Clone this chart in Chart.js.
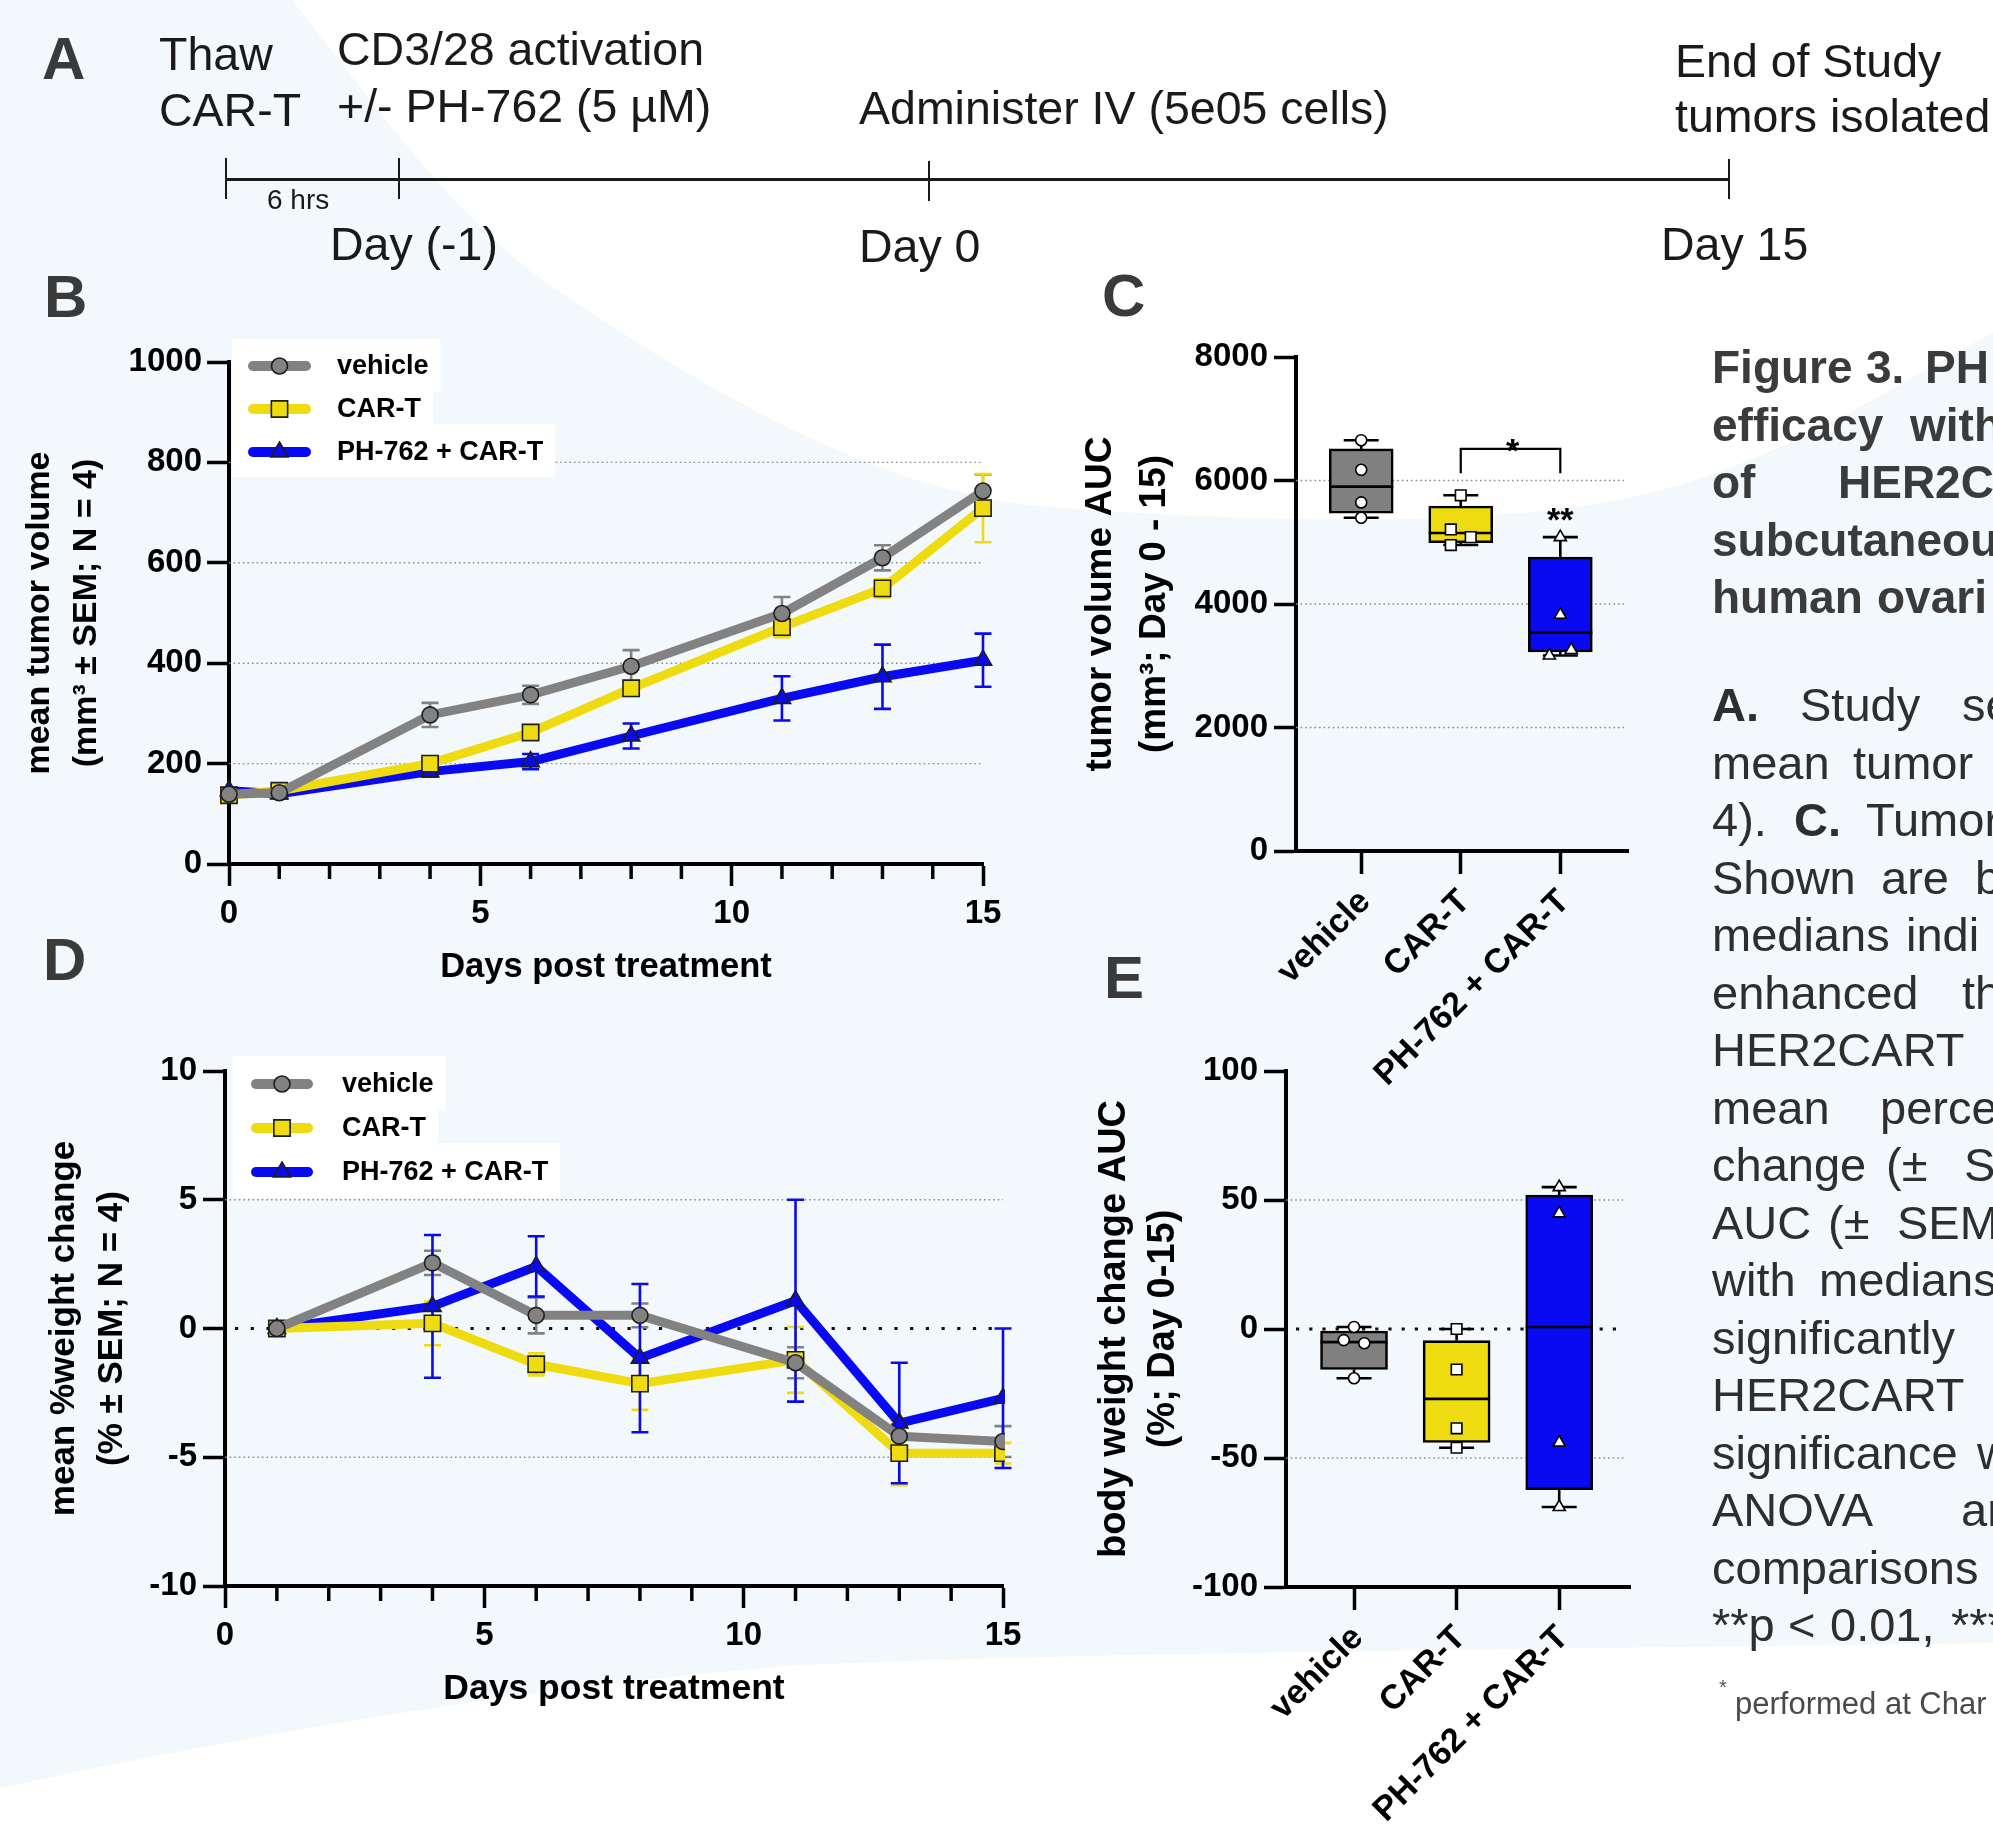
<!DOCTYPE html>
<html><head><meta charset="utf-8">
<script src="https://cdn.jsdelivr.net/npm/chart.js@4.4.1/dist/chart.umd.min.js"></script>
<style>
html,body{margin:0;padding:0;}
body{width:1993px;height:1824px;overflow:hidden;position:relative;background:#f2f8fb;font-family:'Liberation Sans',Arial,sans-serif;}
#bg{position:absolute;left:0;top:0;}
canvas{position:absolute;left:0;top:0;}
.t{position:absolute;white-space:pre;line-height:1;}
.ln{position:absolute;background:#1a1a1a;}
</style></head><body>
<svg id="bg" width="1993" height="1824" xmlns="http://www.w3.org/2000/svg">
<path d="M292,0 C380,110 460,230 572,300 C700,385 880,495 1050,507 C1250,522 1500,530 1650,493 C1800,455 1900,380 1993,333 L1993,0 Z" fill="#ffffff"/>
<path d="M0,1788 C250,1735 500,1690 800,1665 C1100,1652 1500,1650 1993,1643 L1993,1824 L0,1824 Z" fill="#ffffff"/>
</svg>
<canvas id="cB" width="1993" height="1824"></canvas>
<canvas id="cC" width="1993" height="1824"></canvas>
<canvas id="cD" width="1993" height="1824"></canvas>
<canvas id="cE" width="1993" height="1824"></canvas>
<script>
// ---------------- DATA ----------------
const SERIES = ['vehicle', 'CAR-T', 'PH-762 + CAR-T'];
const GROUPS = ['vehicle', 'CAR-T', 'PH-762 + CAR-T'];

// Panel B: mean tumor volume (mm3) +/- SEM
const DAYS_B = [0, 1, 4, 6, 8, 11, 13, 15];
const B_VEHICLE = [139, 142, 297, 337, 394, 499, 610, 743];
const B_VEHICLE_SEM = [3, 4, 24, 18, 32, 33, 25, 33];
const B_CART = [137, 146, 200, 262, 350, 472, 549, 709];
const B_CART_SEM = [3, 5, 8, 12, 15, 20, 18, 68];
const B_PH = [146, 140, 184, 204, 255, 330, 373, 406];
const B_PH_SEM = [3, 4, 10, 15, 25, 44, 64, 53];

// Panel D: mean % weight change +/- SEM
const DAYS_D = [1, 4, 6, 8, 11, 13, 15];
const D_VEHICLE = [0, 2.55, 0.51, 0.51, -1.33, -4.18, -4.39];
const D_VEHICLE_SEM = [0, 0.47, 0.7, 0.46, 0.6, 0.45, 0.6];
const D_CART = [0, 0.2, -1.39, -2.14, -1.22, -4.84, -4.84];
const D_CART_SEM = [0, 0.85, 0.43, 1.02, 1.28, 1.25, 0.4];
const D_PH = [0, 0.86, 2.41, -1.15, 1.08, -3.67, -2.71];
const D_PH_SEM = [0, 2.77, 1.17, 2.88, 3.92, 2.34, 2.71];

// Panel C: tumor volume AUC (box plots)
const C_POINTS = [[6653, 6173, 5645, 5397], [5760, 5207, 5083, 4955], [5083, 3826, 3256, 3165]];
const C_MIN = [5397, 4955, 3165];
const C_Q1 = [5471, 4992, 3223];
const C_MED = [5901, 5149, 3537];
const C_Q3 = [6512, 5587, 4760];
const C_MAX = [6653, 5760, 5083];

// Panel E: body weight change AUC (box plots)
const E_POINTS = [[0.8, -4.3, -5.5, -19.1], [0, -15.7, -38.5, -46], [55, 44.8, -44, -69]];
const E_MIN = [-19.1, -46, -69];
const E_Q1 = [-15.7, -44, -62.3];
const E_MED = [-5.1, -27.1, 0.8];
const E_Q3 = [-0.8, -4.5, 51.9];
const E_MAX = [0.8, 0, 55];

// tick values
const TICKS_B_Y = [0, 200, 400, 600, 800, 1000];
const TICKS_C_Y = [0, 2000, 4000, 6000, 8000];
const TICKS_D_Y = [-10, -5, 0, 5, 10];
const TICKS_E_Y = [-100, -50, 0, 50, 100];
const MAJOR_X = [0, 5, 10, 15];
const MINOR_X = [1, 2, 3, 4, 6, 7, 8, 9, 11, 12, 13, 14];

// ---------------- STYLE ----------------
const FONT = "'Liberation Sans', Arial, sans-serif";
Chart.defaults.font.family = FONT;
const GREY = '#828282', YELLOW = '#eedc10', BLUE = '#0a0af2';
const POINT_JITTER_C = [[0, 0, 0, 0], [0, -0.1, 0.1, -0.1], [0, 0, 0.11, -0.11]];
const POINT_JITTER_E = [[0, -0.1, 0.1, 0], [0, 0, 0, 0], [0, 0, 0, 0]];

function drawMarker(ctx, style, x, y, r) {
  ctx.beginPath();
  if (style === 'circle') ctx.arc(x, y, r, 0, Math.PI * 2);
  else if (style === 'rect') { const s = r * Math.SQRT1_2; ctx.rect(x - s, y - s, 2 * s, 2 * s); }
  else { ctx.moveTo(x, y - r); ctx.lineTo(x + 0.866 * r, y + 0.5 * r); ctx.lineTo(x - 0.866 * r, y + 0.5 * r); ctx.closePath(); }
  ctx.fill(); ctx.stroke();
}

function lineDS(label, days, vals, sems, color, style, radius) {
  return {
    label, data: days.map((d, i) => ({x: d, y: vals[i]})), errors: sems, errorColor: color,
    borderColor: color, borderWidth: 9, tension: 0, borderJoinStyle: 'round', borderCapStyle: 'round',
    pointStyle: style, pointRadius: radius, pointHoverRadius: radius,
    pointBackgroundColor: color, pointBorderColor: '#1e1e1e', pointBorderWidth: 1.6
  };
}

function linePlugin(cfg) {
  return {
    id: 'decor' + cfg.id,
    beforeDatasetsDraw(chart) {
      const ctx = chart.ctx, ca = chart.chartArea, xs = chart.scales.x, ys = chart.scales.y;
      cfg.refLines.forEach(r => r.values.forEach(v => {
        const py = ys.getPixelForValue(v);
        ctx.save(); ctx.strokeStyle = r.color; ctx.lineWidth = r.width; ctx.setLineDash(r.dash); ctx.lineCap = r.cap || 'butt';
        ctx.beginPath(); ctx.moveTo(ca.left + (r.inset || 0), py); ctx.lineTo(ca.right, py); ctx.stroke(); ctx.restore();
      }));
      chart.data.datasets.forEach(ds => {
        ctx.save(); ctx.strokeStyle = ds.errorColor; ctx.lineWidth = 2.6;
        ds.data.forEach((p, i) => {
          const e = ds.errors[i]; if (!e) return;
          const px = xs.getPixelForValue(p.x), yt = ys.getPixelForValue(p.y + e), yb = ys.getPixelForValue(p.y - e);
          const c = cfg.cap / 2;
          ctx.beginPath();
          ctx.moveTo(px, yt); ctx.lineTo(px, yb);
          ctx.moveTo(px - c, yt); ctx.lineTo(px + c, yt);
          ctx.moveTo(px - c, yb); ctx.lineTo(px + c, yb);
          ctx.stroke();
        });
        ctx.restore();
      });
    },
    afterDatasetsDraw(chart) {
      const ctx = chart.ctx, L = cfg.legend;
      ctx.save();
      ctx.font = 'bold ' + L.font + 'px ' + FONT;
      L.rows.forEach((row, i) => {
        const ds = chart.data.datasets[i];
        const tw = ctx.measureText(ds.label).width;
        ctx.fillStyle = '#ffffff';
        ctx.fillRect(L.left, row.top, L.textX + tw + 12 - L.left, row.bottom - row.top);
        ctx.strokeStyle = ds.borderColor; ctx.lineWidth = 10; ctx.lineCap = 'round'; ctx.setLineDash([]);
        ctx.beginPath(); ctx.moveTo(L.line[0], row.y); ctx.lineTo(L.line[1], row.y); ctx.stroke();
        ctx.fillStyle = ds.pointBackgroundColor; ctx.strokeStyle = ds.pointBorderColor; ctx.lineWidth = 1.6;
        drawMarker(ctx, ds.pointStyle, (L.line[0] + L.line[1]) / 2, row.y, ds.pointRadius);
        ctx.fillStyle = '#000'; ctx.textBaseline = 'middle'; ctx.textAlign = 'left';
        ctx.fillText(ds.label, L.textX, row.y + 1);
      });
      ctx.restore();
    },
    afterDraw(chart) {
      const ctx = chart.ctx, xs = chart.scales.x, y0 = chart.chartArea.bottom;
      ctx.save(); ctx.strokeStyle = '#000'; ctx.lineWidth = 3.5;
      MINOR_X.forEach(v => { const px = xs.getPixelForValue(v); ctx.beginPath(); ctx.moveTo(px, y0); ctx.lineTo(px, y0 + 15); ctx.stroke(); });
      ctx.restore();
    }
  };
}

function boxPlugin(cfg) {
  return {
    id: 'box' + cfg.id,
    beforeDatasetsDraw(chart) {
      const ctx = chart.ctx, ca = chart.chartArea, ys = chart.scales.y;
      cfg.refLines.forEach(r => r.values.forEach(v => {
        const py = ys.getPixelForValue(v);
        ctx.save(); ctx.strokeStyle = r.color; ctx.lineWidth = r.width; ctx.setLineDash(r.dash); ctx.lineCap = r.cap || 'butt';
        ctx.beginPath(); ctx.moveTo(ca.left + (r.inset || 0), py); ctx.lineTo(ca.right - 4, py); ctx.stroke(); ctx.restore();
      }));
    },
    beforeDatasetDraw(chart, args) {
      if (args.index !== 0) return;
      const ctx = chart.ctx, xs = chart.scales.x, ys = chart.scales.y, st = chart.data.datasets[0].stats;
      ctx.save(); ctx.strokeStyle = '#000'; ctx.lineWidth = 2.6;
      st.min.forEach((mn, i) => {
        const px = xs.getPixelForValue(i), c = cfg.cap / 2;
        const pMin = ys.getPixelForValue(mn), pMax = ys.getPixelForValue(st.max[i]);
        const pQ1 = ys.getPixelForValue(st.q1[i]), pQ3 = ys.getPixelForValue(st.q3[i]);
        ctx.beginPath();
        ctx.moveTo(px, pMax); ctx.lineTo(px, pQ3); ctx.moveTo(px, pQ1); ctx.lineTo(px, pMin);
        ctx.moveTo(px - c, pMax); ctx.lineTo(px + c, pMax);
        ctx.moveTo(px - c, pMin); ctx.lineTo(px + c, pMin);
        ctx.stroke();
      });
      ctx.restore();
    },
    afterDatasetDraw(chart, args) {
      if (args.index !== 0) return;
      const ctx = chart.ctx, xs = chart.scales.x, ys = chart.scales.y, st = chart.data.datasets[0].stats;
      const hw = chart.data.datasets[0].barThickness / 2;
      ctx.save(); ctx.strokeStyle = '#000'; ctx.lineWidth = 2.6;
      st.med.forEach((m, i) => {
        const px = xs.getPixelForValue(i), py = ys.getPixelForValue(m);
        ctx.beginPath(); ctx.moveTo(px - hw, py); ctx.lineTo(px + hw, py); ctx.stroke();
      });
      ctx.restore();
    },
    afterDatasetsDraw(chart) {
      if (!cfg.sig) return;
      const ctx = chart.ctx, xs = chart.scales.x, ys = chart.scales.y, s = cfg.sig;
      ctx.save(); ctx.strokeStyle = '#000'; ctx.lineWidth = 2.2;
      const x1 = xs.getPixelForValue(s.from), x2 = xs.getPixelForValue(s.to);
      const yt = ys.getPixelForValue(s.top), yf = ys.getPixelForValue(s.foot);
      ctx.beginPath(); ctx.moveTo(x1, yf); ctx.lineTo(x1, yt); ctx.lineTo(x2, yt); ctx.lineTo(x2, yf); ctx.stroke();
      ctx.fillStyle = '#000'; ctx.font = 'bold 34px ' + FONT; ctx.textAlign = 'center'; ctx.textBaseline = 'alphabetic';
      s.labels.forEach(l => ctx.fillText(l.text, xs.getPixelForValue(l.x), ys.getPixelForValue(l.y)));
      ctx.restore();
    }
  };
}

function yAxis(min, max, ticks, width, title, titleSize, lh, tpad, tickPad) {
  return {
    type: 'linear', min, max, position: 'left',
    afterBuildTicks: s => { s.ticks = ticks.map(v => ({value: v})); },
    afterFit: s => { s.width = width; },
    ticks: {callback: v => String(v), font: {family: FONT, size: 33, weight: 'bold'}, color: '#000', padding: tickPad},
    grid: {drawOnChartArea: false, drawTicks: true, tickLength: 22, tickWidth: 3.5, tickColor: '#000', color: '#000'},
    border: {display: true, color: '#000', width: 4},
    title: {display: true, text: title, color: '#000', font: {family: FONT, size: titleSize, weight: 'bold', lineHeight: lh}, padding: {top: tpad, bottom: 0}}
  };
}
function xAxisDays(height, title, titleSize, tpadBottom) {
  return {
    type: 'linear', min: 0, max: 15, position: 'bottom',
    afterBuildTicks: s => { s.ticks = MAJOR_X.map(v => ({value: v})); },
    afterFit: s => { s.height = height; },
    ticks: {callback: v => String(v), font: {family: FONT, size: 33, weight: 'bold'}, color: '#000', padding: 8, maxRotation: 0, autoSkip: false},
    grid: {drawOnChartArea: false, drawTicks: true, tickLength: 22, tickWidth: 3.5, tickColor: '#000', color: '#000'},
    border: {display: true, color: '#000', width: 4},
    title: {display: true, text: title, color: '#000', font: {family: FONT, size: titleSize, weight: 'bold', lineHeight: 1.2}, padding: {top: 0, bottom: tpadBottom}}
  };
}
function xAxisGroups(min, max, height, labelOffset) {
  return {
    type: 'linear', min, max, position: 'bottom', offset: false,
    afterBuildTicks: s => { s.ticks = GROUPS.map((g, i) => ({value: i})); },
    afterFit: s => { s.height = height; },
    ticks: {callback: v => GROUPS[v], font: {family: FONT, size: 34, weight: 'bold'}, color: '#000', minRotation: 45, maxRotation: 45, autoSkip: false, padding: 8, labelOffset},
    grid: {offset: false, drawOnChartArea: false, drawTicks: true, tickLength: 23, tickWidth: 3.5, tickColor: '#000', color: '#000'},
    border: {display: true, color: '#000', width: 4}
  };
}
const commonOpts = {responsive: false, animation: false, events: [], plugins: {legend: {display: false}, tooltip: {enabled: false}}};

// ---------------- PANEL B ----------------
new Chart(document.getElementById('cB'), {
  type: 'line',
  data: {datasets: [
    lineDS(SERIES[0], DAYS_B, B_VEHICLE, B_VEHICLE_SEM, GREY, 'circle', 8),
    lineDS(SERIES[1], DAYS_B, B_CART, B_CART_SEM, YELLOW, 'rect', 11.5),
    lineDS(SERIES[2], DAYS_B, B_PH, B_PH_SEM, BLUE, 'triangle', 10)
  ].map(d => Object.assign(d, {clip: false}))},
  options: Object.assign({}, commonOpts, {
    layout: {padding: {left: 0, top: 362, right: 1010, bottom: 830}},
    scales: {
      x: xAxisDays(130, 'Days post treatment', 34.5, 6),
      y: yAxis(0, 1000, TICKS_B_Y, 229, ['mean tumor volume', '(mm³ ± SEM; N = 4)'], 34, 1.38, 16.5, 5)
    }
  }),
  plugins: [linePlugin({id: 'B', cap: 17,
    refLines: [{values: [200, 400, 600, 800], color: '#8d8d8d', width: 1.4, dash: [1.6, 3]}],
    legend: {left: 232, line: [253, 306], textX: 337, font: 27, rows: [{y: 366, top: 339, bottom: 392}, {y: 409, top: 392, bottom: 424}, {y: 452, top: 424, bottom: 477}]}
  })]
});

// ---------------- PANEL D ----------------
new Chart(document.getElementById('cD'), {
  type: 'line',
  data: {datasets: [
    lineDS(SERIES[0], DAYS_D, D_VEHICLE, D_VEHICLE_SEM, GREY, 'circle', 8),
    lineDS(SERIES[1], DAYS_D, D_CART, D_CART_SEM, YELLOW, 'rect', 11.5),
    lineDS(SERIES[2], DAYS_D, D_PH, D_PH_SEM, BLUE, 'triangle', 10)
  ].map(d => Object.assign(d, {clip: 2}))},
  options: Object.assign({}, commonOpts, {
    layout: {padding: {left: 0, top: 1071, right: 990, bottom: 108}},
    scales: {
      x: xAxisDays(130, 'Days post treatment', 35.5, 5),
      y: yAxis(-10, 10, TICKS_D_Y, 225, ['mean %weight change', '(% ± SEM; N = 4)'], 35, 1.37, 40, 6)
    }
  }),
  plugins: [linePlugin({id: 'D', cap: 17,
    refLines: [{values: [-5, 5], color: '#8d8d8d', width: 1.4, dash: [1.6, 3]}, {values: [0], color: '#111', width: 3.2, dash: [3.2, 12.5], inset: 10}],
    legend: {left: 233, line: [256, 308], textX: 342, font: 27, rows: [{y: 1084, top: 1056, bottom: 1110}, {y: 1128, top: 1110, bottom: 1143}, {y: 1172, top: 1143, bottom: 1198}]}
  })]
});

// ---------------- BOX PANELS ----------------
function boxChart(id, points, jitter, stats, yMin, yMax, yTicks, padding, yWidth, xHeight, title, titleSize, lh, tpad, xMin, xMax, barW, refLines, sig) {
  const styles = ['circle', 'rect', 'triangle'];
  const radii = [5.5, 7.5, 7];
  const scatter = [];
  points.forEach((grp, g) => grp.forEach((v, k) => scatter.push({x: g + jitter[g][k], y: v, s: styles[g], r: radii[g]})));
  new Chart(document.getElementById(id), {
    type: 'bar',
    data: {datasets: [
      {type: 'bar', order: 2, data: stats.q1.map((q, i) => ({x: i, y: [q, stats.q3[i]]})), stats,
        backgroundColor: ['#808080', YELLOW, BLUE], borderColor: '#000', borderWidth: 2.6, borderSkipped: false, barThickness: barW, grouped: false},
      {type: 'scatter', order: 1, data: scatter.map(p => ({x: p.x, y: p.y})), showLine: false,
        pointStyle: scatter.map(p => p.s), pointRadius: scatter.map(p => p.r), pointBackgroundColor: '#fff', pointBorderColor: '#000', pointBorderWidth: 1.6, clip: false}
    ]},
    options: Object.assign({}, commonOpts, {
      layout: {padding},
      scales: {
        x: xAxisGroups(xMin, xMax, xHeight, 4),
        y: yAxis(yMin, yMax, yTicks, yWidth, title, titleSize, lh, tpad, 6)
      }
    }),
    plugins: [boxPlugin({id, cap: 35, refLines, sig})]
  });
}

boxChart('cC', C_POINTS, POINT_JITTER_C, {min: C_MIN, q1: C_Q1, med: C_MED, q3: C_Q3, max: C_MAX},
  0, 8000, TICKS_C_Y, {left: 1060, top: 357, right: 365, bottom: 623}, 236, 350,
  ['tumor volume AUC', '(mm³; Day 0 - 15)'], 37, 1.46, 14, -0.655, 2.68, 64,
  [{values: [2000, 4000, 6000], color: '#8d8d8d', width: 1.4, dash: [1.6, 3]}],
  {from: 1, to: 2, top: 6512, foot: 6116, labels: [{x: 1.52, y: 6297, text: '*'}, {x: 2, y: 5181, text: '**'}]});

boxChart('cE', E_POINTS, POINT_JITTER_E, {min: E_MIN, q1: E_Q1, med: E_MED, q3: E_Q3, max: E_MAX},
  -100, 100, TICKS_E_Y, {left: 1070, top: 1071, right: 363, bottom: 0}, 216, 237,
  ['body weight change AUC', '(%; Day 0-15)'], 38, 1.29, 20, -0.663, 2.69, 67,
  [{values: [-50, 50], color: '#8d8d8d', width: 1.4, dash: [1.6, 3]}, {values: [0], color: '#111', width: 3.2, dash: [3.2, 10], inset: 10}],
  null);

// ---------------- TEXT ----------------
function put(html, x, base, size, bold, color) {
  const el = document.createElement('div');
  el.className = 't';
  el.innerHTML = html;
  el.style.left = x + 'px';
  el.style.top = (base - 0.8465 * size) + 'px';
  el.style.fontSize = size + 'px';
  el.style.fontWeight = bold ? 'bold' : 'normal';
  el.style.color = color || '#1a1a1a';
  document.body.appendChild(el);
}
function bar(x, y, w, h) {
  const el = document.createElement('div'); el.className = 'ln';
  el.style.left = x + 'px'; el.style.top = y + 'px'; el.style.width = w + 'px'; el.style.height = h + 'px';
  document.body.appendChild(el);
}
// panel letters
[['A', 42, 80], ['B', 44, 318], ['C', 1102, 317], ['D', 43, 981], ['E', 1104, 999]].forEach(l => put(l[0], l[1], l[2], 60, true, '#3a3a3a'));

// timeline
put('Thaw', 159, 70, 46.5); put('CAR-T', 159, 126, 46.5);
put('CD3/28 activation', 337, 65, 46.5); put('+/- PH-762 (5 µM)', 337, 122, 46.5);
put('Administer IV (5e05 cells)', 859, 124, 46.5);
put('End of Study', 1675, 77, 46.5); put('tumors isolated', 1675, 132, 46.5);
put('6 hrs', 267, 210, 28);
put('Day (-1)', 330, 260, 46.5); put('Day 0', 859, 262, 46.5); put('Day 15', 1661, 260, 46.5);
bar(226, 178, 1504, 2.5);
bar(225, 158, 1.8, 41); bar(398, 158, 1.8, 41); bar(928, 161, 1.8, 40); bar(1728, 159, 1.8, 40);

// right-hand caption
const TITLE_LINES = [
  [[1712, 'Figure'], [1866, '3.'], [1925, 'PH']],
  [[1712, 'efficacy'], [1910, 'with']],
  [[1712, 'of'], [1838, 'HER2C']],
  [[1712, 'subcutaneou']],
  [[1712, 'human'], [1877, 'ovari']]
];
TITLE_LINES.forEach((ln, i) => ln.forEach(w => put(w[1], w[0], 383 + i * 57.5, 46, true, '#3b3b3b')));
const BODY_LINES = [
  [[1712, 'A.', 1], [1800, 'Study'], [1962, 'se']],
  [[1712, 'mean'], [1853, 'tumor']],
  [[1712, '4).'], [1794, 'C.', 1], [1866, 'Tumor']],
  [[1712, 'Shown'], [1881, 'are'], [1975, 'b']],
  [[1712, 'medians'], [1906, 'indi']],
  [[1712, 'enhanced'], [1962, 'th']],
  [[1712, 'HER2CART']],
  [[1712, 'mean'], [1880, 'perce']],
  [[1712, 'change'], [1886, '(±'], [1964, 'S']],
  [[1712, 'AUC'], [1828, '(±'], [1897, 'SEM']],
  [[1712, 'with'], [1819, 'medians']],
  [[1712, 'significantly']],
  [[1712, 'HER2CART']],
  [[1712, 'significance'], [1977, 'w']],
  [[1712, 'ANOVA'], [1961, 'ar']],
  [[1712, 'comparisons']],
  [[1712, '**p'], [1788, '&lt;'], [1830, '0.01,'], [1951, '***']]
];
BODY_LINES.forEach((ln, i) => ln.forEach(w => put(w[1], w[0], 721 + i * 57.5, 47, !!w[2], '#2e2e2e')));
put('*', 1719, 1694, 20, false, '#555');
put('performed at Char', 1735, 1714, 31, false, '#4a4a4a');
</script>
</body></html>
